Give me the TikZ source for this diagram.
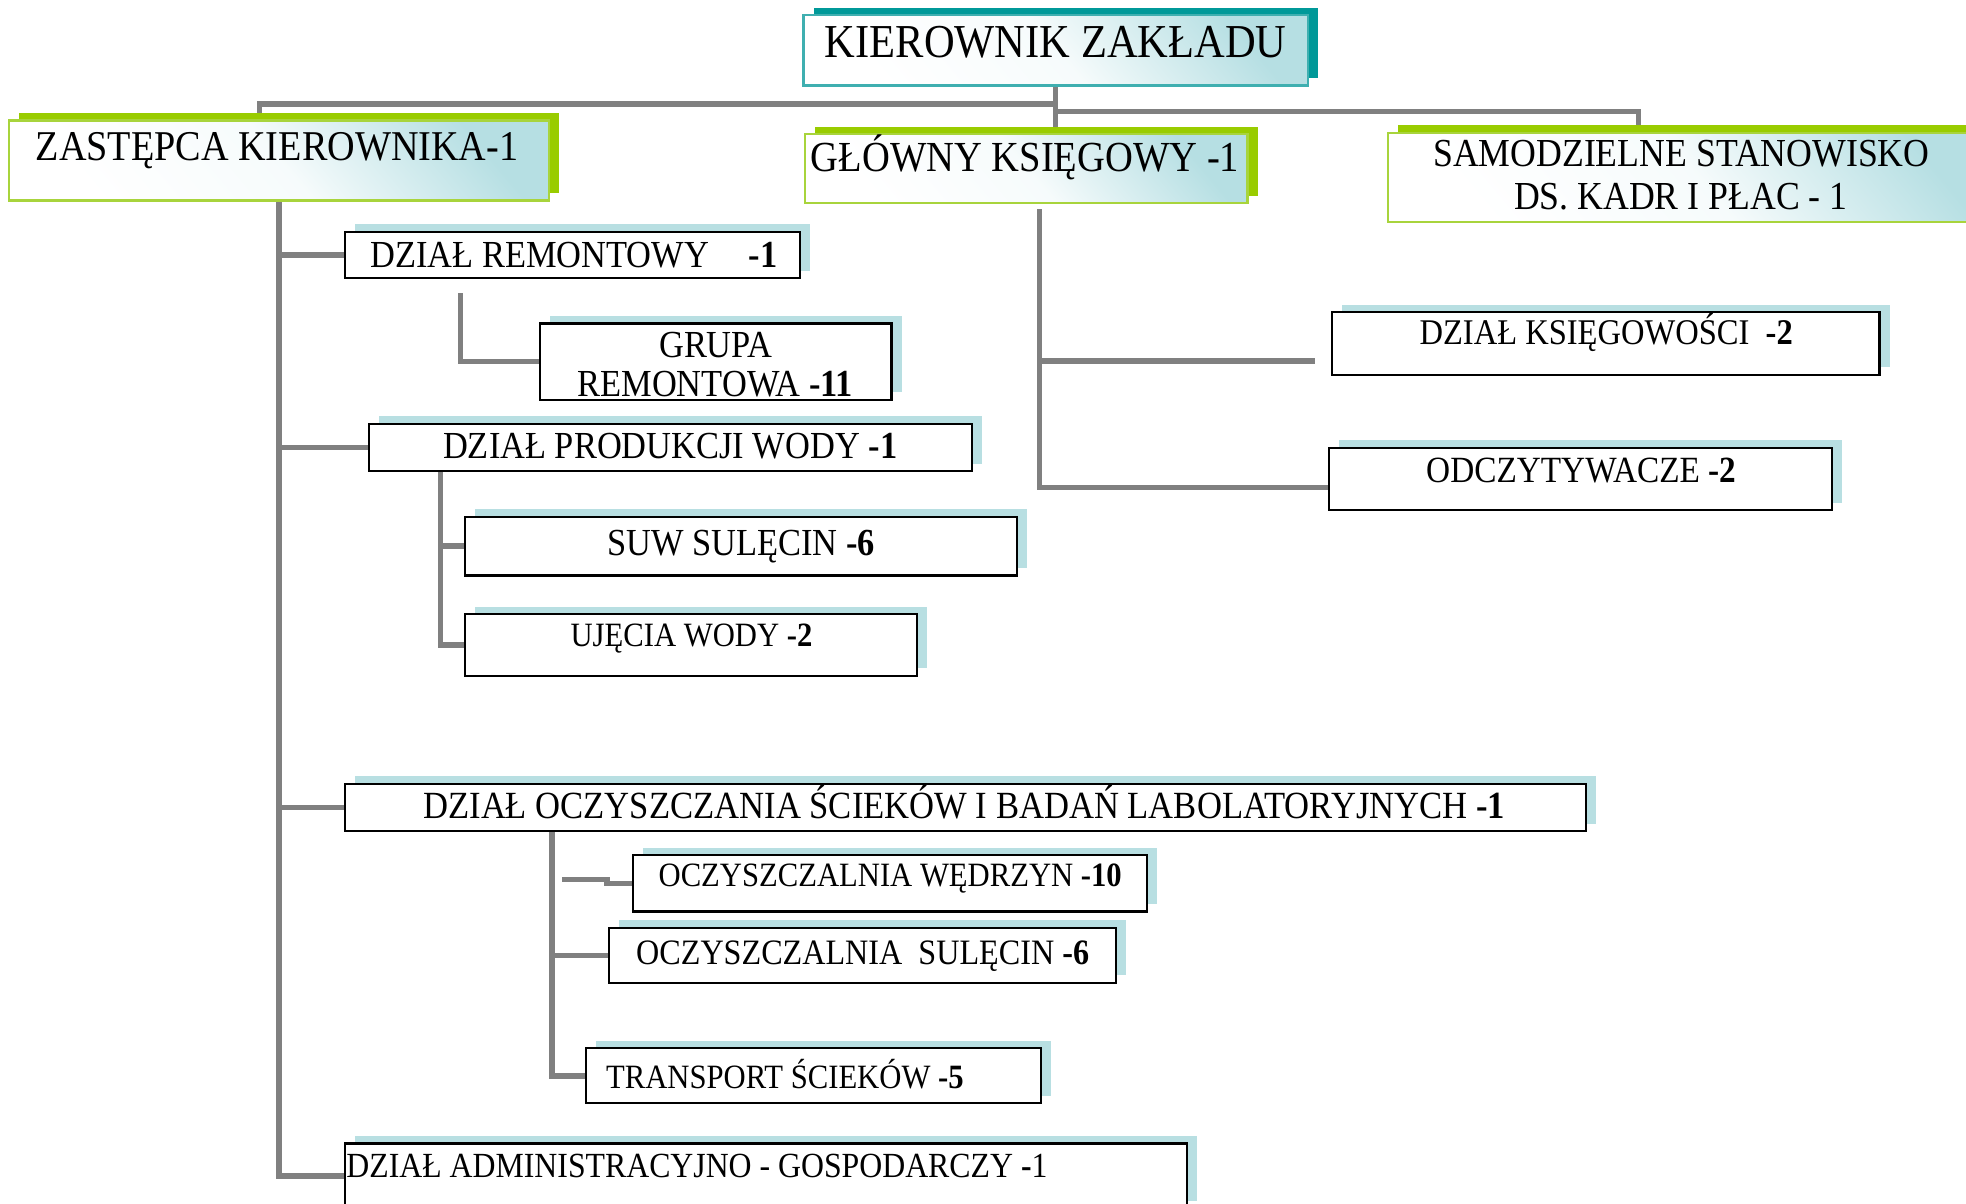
\documentclass[tikz,border=0pt]{standalone}
\usepackage{fontspec}
\setmainfont{Liberation Serif}[FakeStretch=0.9]
\usetikzlibrary{fit,shadows,backgrounds,calc}
\definecolor{tealD}{HTML}{009999}
\definecolor{tealB}{HTML}{3FAFB0}
\definecolor{grnS}{HTML}{99CC00}
\definecolor{grnB}{HTML}{A8D43C}
\definecolor{lblue}{HTML}{B8DFE2}
\definecolor{gradT}{HTML}{B6DFE3}
\definecolor{connG}{HTML}{808080}
\begin{document}
\begin{tikzpicture}[x=0.6pt,y=-0.6pt,
  conn/.style={draw=connG, line width=2.6pt, line join=miter},
  wbox/.style={draw=black, line width=1pt, fill=white, inner sep=0pt,
    general shadow={shadow xshift=4.8pt, shadow yshift=3.6pt, fill=lblue}},
  shadedbox/.style={top color=gradT, bottom color=white, middle color=white!88!gradT,
    shading angle=-50, inner sep=0pt},
  gbox/.style={draw=grnB, line width=1.2pt, shadedbox,
    general shadow={shadow xshift=4.8pt, shadow yshift=3.6pt, fill=grnS}},
  kbox/.style={draw=tealB, line width=1.2pt, shadedbox,
    general shadow={shadow xshift=5.1pt, shadow yshift=3.6pt, fill=tealD}},
  txt/.style={font=\fontsize{#1pt}{#1pt}\selectfont, inner sep=0pt}]
\useasboundingbox (0,0) rectangle (1568,960);
\clip (0,0) rectangle (1568,960);

% top level
\node[kbox, fit={(641,12) (1043,68)}] (kier) {};
\node[txt=22.6, anchor=base] (tkier) at (842,46) {KIEROWNIK ZAKŁADU};

\node[gbox, fit={(7,96) (438,160)}] (zast) {};
\node[txt=20.3, anchor=base] (tzast) at (221,128) {ZASTĘPCA KIEROWNIKA-1};

\node[gbox, fit={(642,107) (995,162)}] (glow) {};
\node[txt=20.5, anchor=base] (tglow) at (817.5,137) {GŁÓWNY KSIĘGOWY -1};

\node[gbox, fit={(1107,106) (1600,177)}] (samo) {};
\node[txt=19, anchor=base] (tsamo1) at (1341,133) {SAMODZIELNE STANOWISKO};
\node[txt=19, anchor=base] (tsamo2) at (1340.5,167) {DS. KADR I PŁAC - 1};

% left branch
\node[wbox, fit={(275,185) (638,222)}] (rem) {};
\node[txt=18.3, anchor=base west] (trem) at (295,213) {DZIAŁ REMONTOWY};
\node[txt=18.3, anchor=base west] (trem1) at (597,213) {\textbf{-1}};

\node[wbox, fit={(431,258) (711,319)}] (grupa) {};
\node[txt=18.3, anchor=base] (tgr1) at (571,285) {GRUPA};
\node[txt=18.3, anchor=base] (tgr2) at (570.5,316) {REMONTOWA \textbf{-11}};

\node[wbox, fit={(294,338) (775,376)}] (prod) {};
\node[txt=18.3, anchor=base] (tprod) at (534.5,366) {DZIAŁ PRODUKCJI WODY \textbf{-1}};

\node[wbox, fit={(371,412) (811,459)}] (suw) {};
\node[txt=18.3, anchor=base] (tsuw) at (591,443) {SUW SULĘCIN \textbf{-6}};

\node[wbox, fit={(371,490) (731,539)}] (uje) {};
\node[txt=16.3, anchor=base] (tuje) at (551.5,516) {UJĘCIA WODY \textbf{-2}};

\node[wbox, fit={(275,625) (1265,663)}] (ocz) {};
\node[txt=18.4, anchor=base] (tocz) at (769,653) {DZIAŁ OCZYSZCZANIA ŚCIEKÓW I BADAŃ LABOLATORYJNYCH \textbf{-1}};

\node[wbox, fit={(505,682) (915,727)}] (wed) {};
\node[txt=16.3, anchor=base] (twed) at (710,707) {OCZYSZCZALNIA WĘDRZYN \textbf{-10}};

\node[wbox, fit={(486,740) (890,784)}] (osul) {};
\node[txt=17.1, anchor=base] (tosul) at (688,769) {OCZYSZCZALNIA\ \ SULĘCIN \textbf{-6}};

\node[wbox, fit={(467,836) (830,880)}] (trans) {};
\node[txt=16.3, anchor=base] (ttrans) at (626,868) {TRANSPORT ŚCIEKÓW \textbf{-5}};

\node[wbox, fit={(275,912) (947,964)}] (adm) {};
\node[txt=16.9, anchor=base west] (tadm) at (276,939) {DZIAŁ ADMINISTRACYJNO - GOSPODARCZY \textbf{-}1};

% right branch
\node[wbox, fit={(1062,249) (1499,299)}] (ksieg) {};
\node[txt=17.3, anchor=base] (tksieg) at (1281,275) {DZIAŁ KSIĘGOWOŚCI\ \ \textbf{-2}};

\node[wbox, fit={(1060,357) (1461,407)}] (odcz) {};
\node[txt=17.7, anchor=base] (todcz) at (1261,385) {ODCZYTYWACZE \textbf{-2}};

% connectors
\begin{scope}[on background layer]
\draw[conn] (kier.south) -- (kier.south |- glow.north);
\draw[conn] (kier.south) ++(0,14) -| ([xshift=-9.3pt]zast.north);
\draw[conn] (kier.south) ++(0,20) -| ([xshift=-27.9pt]samo.north);

\draw[conn] (zast.south) -- (zast.south |- adm.west) -- (adm.west);
\draw[conn] (zast.south |- rem.west) -- (rem.west);
\draw[conn] (zast.south |- prod.west) -- (prod.west);
\draw[conn] (zast.south |- ocz.west) -- (ocz.west);

\draw[conn] ($(rem.south west)+(93,11)$) |- (grupa.west);

\draw[conn] ($(prod.south west)+(58,0)$) |- (uje.west);
\draw[conn] ($(prod.south west)+(58,0)$) |- (suw.west);

\draw[conn] ($(ocz.south west)+(166,0)$) |- (trans.west);
\draw[conn] ($(ocz.south west)+(166,0)$) |- (osul.west);
\draw[conn] (wed.west) -- ++(-20,0) -- ++(0,-3) -- ++(-36,0);

\draw[conn] ($(glow.south west)+(188,4)$) |- ($(odcz.west)+(0,7)$);
\draw[conn] ($(glow.south west)+(188,4)$) |- ($(ksieg.west)+(-12,14)$);
\end{scope}
\end{tikzpicture}
\end{document}
